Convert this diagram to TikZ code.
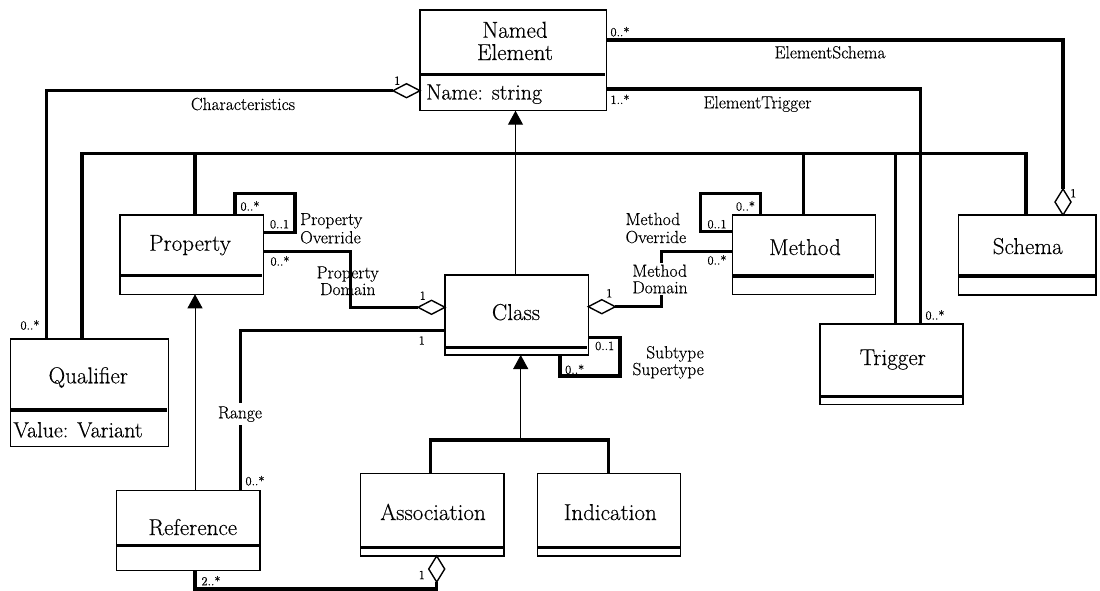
\documentclass[tikz,border=0pt]{standalone}
\usepackage{fontspec}
\setmainfont{Latin Modern Roman}[FakeBold=0.35]
\usetikzlibrary{arrows.meta,shapes.geometric}

% class box: name, x1, y1, x2, y2, y of the compartment divider
\newcommand\umlclass[6]{%
  \node[umlbox, minimum width={(#4)-(#2)}, minimum height={(#5)-(#3)}]
    (#1) at ({((#2)+(#4))/2},{((#3)+(#5))/2}) {};
  \draw[divider] (#2,#6) -- ({(#4)-1.2},#6);
}

\begin{document}
\begin{tikzpicture}[x=1pt,y=-1pt,
  umlbox/.style={draw, line width=1.4pt, rectangle, inner sep=0pt, outer sep=0pt},
  divider/.style={line width=3.2pt},
  conn/.style={line width=3.3pt, line join=miter},
  gen/.style={line width=1pt, -{Triangle[width=15pt,length=14pt]}},
  hdiam/.style={shape=diamond, draw, fill=white, line width=1.4pt, inner sep=0pt,
    outer sep=0pt, minimum width=27pt, minimum height=14pt},
  vdiam/.style={shape=diamond, draw, fill=white, line width=1.4pt, inner sep=0pt,
    outer sep=0pt, minimum width=16pt, minimum height=26pt},
  title/.style={font=\fontsize{23}{23}\selectfont, inner sep=0pt},
  attr/.style={font=\fontsize{22}{22}\selectfont, inner sep=0pt},
  lbl/.style={font=\fontsize{17.5}{18}\selectfont, inner sep=0pt},
  mult/.style={font=\fontsize{12.5}{13}\selectfont, inner sep=0pt},
]
\useasboundingbox (0,0) rectangle (1100,590);

% ---- classes
\umlclass{ne}{420}{10}{606.5}{110.7}{74.3}
\umlclass{prop}{120}{215}{263.3}{294.3}{275.8}
\umlclass{meth}{732.2}{215}{875.4}{294.3}{276}
\umlclass{schema}{958.3}{215}{1096}{295}{276}
\umlclass{qual}{10.7}{339}{168.3}{446.7}{410}
\umlclass{cls}{445}{275}{588.3}{355}{347.3}
\umlclass{trig}{820}{324}{963}{404.3}{396.7}
\umlclass{ref}{116.3}{490.7}{260}{570.7}{545.7}
\umlclass{assoc}{360.7}{473.3}{504}{556}{547.3}
\umlclass{ind}{537.3}{473.3}{680.7}{556}{547.3}

\node[title, anchor=base] (tne1) at (515,37.7) {Named};
\node[title, anchor=base] (tne2) at (515,60) {Element};
\node[attr, anchor=base west] (ane) at (426,99.5) {Name: string};
\node[title, anchor=base] (tprop) at (190,250.7) {Property};
\node[title, anchor=base] (tqual) at (88.3,383.3) {Qualifier};
\node[attr, anchor=base west] (aqual) at (13.3,437.3) {Value: Variant};
\node[title, anchor=base] (tcls) at (516,320) {Class};
\node[title, anchor=base] (tref) at (192.8,535) {Reference};
\node[title, anchor=base] (tassoc) at (433,520) {Association};
\node[title, anchor=base] (tind) at (610.3,520) {Indication};
\node[title, anchor=base] (tmeth) at (805,255) {Method};
\node[title, anchor=base] (tschema) at (1027.7,254) {Schema};
\node[title, anchor=base] (ttrig) at (892.8,365) {Trigger};

% ---- subclasses of Named Element (shared bus)
\coordinate (busL) at (82,153.3);
\coordinate (busR) at (1026,153.3);
\draw[conn] (qual.north -| busL) |- (busR) -- (schema.north -| busR);
\draw[conn] (195,153.3) -- (prop.north -| 195,0);
\draw[conn] (803.5,153.3) -- (meth.north -| 803.5,0);
\draw[conn] (895.7,153.3) -- (trig.north -| 895.7,0);
\draw[gen] (cls.north -| 515.5,0) -- (ne.south -| 515.5,0);

% ---- Characteristics
\node[hdiam, anchor=east] (dchar) at (ne.west |- 0,90.7) {};
\draw[conn] (dchar.west) -| (qual.north -| 46.7,0);

% ---- ElementSchema
\node[vdiam, anchor=south] (dsch) at (schema.north -| 1063,0) {};
\draw[conn] (ne.east |- 0,40) -| (dsch.north);

% ---- ElementTrigger
\draw[conn] (ne.east |- 0,89) -| (trig.north -| 920.5,0);

% ---- Property Override
\draw[conn] (prop.north -| 235,0) |- (295,193.3) |- (prop.east |- 0,232.3);

% ---- Property Domain
\node[hdiam, anchor=east] (dpd) at (cls.west |- 0,307.3) {};
\draw[conn] (prop.east |- 0,251.7) -- (350.7,251.7) |- (dpd.west);

% ---- Method Domain
\node[hdiam, anchor=west] (dmd) at (cls.east |- 0,306.7) {};
\draw[conn] (dmd.east) -- (661.6,306.7) |- (meth.west |- 0,251.7);

% ---- Method Override
\draw[conn] (meth.west |- 0,231.7) -| (700.5,193.3) -| (meth.north -| 760.8,0);

% ---- Subtype / Supertype
\draw[conn] (cls.east |- 0,337.3) -| (620,376) -| (cls.south -| 560,0);

% ---- Range
\draw[conn] (cls.west |- 0,330.5) -| (ref.north -| 240.7,0);

% ---- Reference is a Property
\draw[gen] (ref.north -| 195,0) -- (prop.south -| 195,0);

% ---- Association and Indication are Classes
\coordinate (gjoin) at (520.7,440);
\draw[conn] (assoc.north -| 430.7,0) |- (608.3,440) -- (ind.north -| 608.3,0);
\draw[gen] (gjoin) -- (cls.south -| gjoin);

% ---- Association aggregates References
\node[vdiam, anchor=north] (dass) at (assoc.south -| 436.7,0) {};
\draw[conn] (dass.south) -- (436.7,589) -| (ref.south -| 195,0);

% ---- association names
\node[lbl, anchor=base] (lchar) at (243,110) {Characteristics};
\node[lbl, anchor=base] (lesch) at (830,58.3) {ElementSchema};
\node[lbl, anchor=base] (letrg) at (757.5,108.3) {ElementTrigger};
\node[lbl, anchor=base west] (lpo1) at (300,225) {Property};
\node[lbl, anchor=base west] (lpo2) at (300,243.3) {Override};
\node[lbl, anchor=base] (lpd1) at (347.7,278.3) {Property};
\node[lbl, anchor=base] (lpd2) at (347.8,295) {Domain};
\node[lbl, anchor=base west] (lmo1) at (625.4,225) {Method};
\node[lbl, anchor=base west] (lmo2) at (625.4,243) {Override};
\node[lbl, anchor=base, fill=white, inner sep=2pt] (lmd1) at (659.7,276.7) {Method};
\node[lbl, anchor=base, fill=white, inner sep=2pt] (lmd2) at (660,293.3) {Domain};
\node[lbl, anchor=base east] (lst1) at (704,358.3) {Subtype};
\node[lbl, anchor=base east] (lst2) at (704,375) {Supertype};
\node[lbl, anchor=base, fill=white, inner xsep=1pt, inner ysep=3pt] (lrange) at (240,418.3) {Range};

% ---- multiplicities
\node[mult] (m1) at (620,31.7) {0..*};
\node[mult] (m2) at (620,99.3) {1..*};
\node[mult] (m3) at (397.3,80.7) {1};
\node[mult] (m4) at (30,325) {0..*};
\node[mult] (m5) at (250,206) {0..*};
\node[mult] (m6) at (279.5,224.3) {0..1};
\node[mult] (m7) at (280,261) {0..*};
\node[mult] (m8) at (422.7,295.7) {1};
\node[mult] (m9) at (421.7,340.5) {1};
\node[mult] (m10) at (255,480.7) {0..*};
\node[mult] (m11) at (211,580.7) {2..*};
\node[mult] (m12) at (421.7,575) {1};
\node[mult] (m13) at (609.3,293.3) {1};
\node[mult] (m14) at (717,260) {0..*};
\node[mult] (m15) at (745.5,206) {0..*};
\node[mult] (m16) at (717,224.3) {0..1};
\node[mult] (m17) at (604.7,346) {0..1};
\node[mult] (m18) at (574.7,369.3) {0..*};
\node[mult] (m19) at (935,315) {0..*};
\node[mult] (m20) at (1073.3,193.3) {1};

\end{tikzpicture}
\end{document}
